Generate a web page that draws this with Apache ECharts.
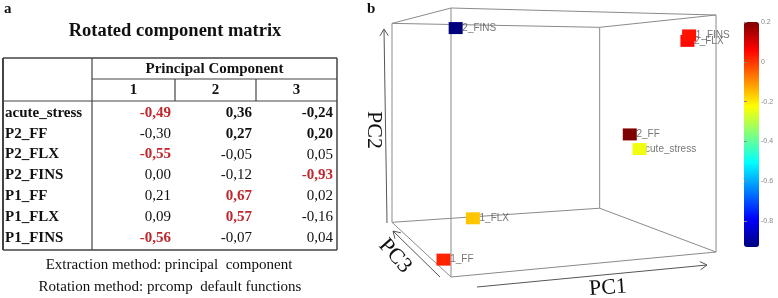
<!DOCTYPE html>
<html>
<head>
<meta charset="utf-8">
<script src="https://cdn.jsdelivr.net/npm/echarts@6/dist/echarts.min.js"></script>
<style>
  html, body { margin: 0; padding: 0; background: #fff; }
  #chart { width: 778px; height: 298px; }
</style>
</head>
<body>
<div id="chart"></div>
<script>
const variables = ['acute_stress', 'P2_FF', 'P2_FLX', 'P2_FINS', 'P1_FF', 'P1_FLX', 'P1_FINS'];
const pc1 = [-0.49, -0.30, -0.55, 0.00, 0.21, 0.09, -0.56];
const pc2 = [0.36, 0.27, -0.05, -0.12, 0.67, 0.57, -0.07];
const pc3 = [-0.24, 0.20, 0.05, -0.93, 0.02, -0.16, 0.04];
const componentLabels = ['1', '2', '3'];
// [row, component] of loadings printed in red / in bold black
const redCells = [[0, 0], [2, 0], [3, 2], [4, 1], [5, 1], [6, 0]];
const boldCells = [[0, 1], [0, 2], [1, 1], [1, 2]];
const colorbarTicks = [0.2, 0, -0.2, -0.4, -0.6, -0.8];

const chart = echarts.init(document.getElementById('chart'));

const SERIF = '"Liberation Serif", "Times New Roman", serif';
const SANS = '"Liberation Sans", Arial, sans-serif';
const JET = ['#00007f', '#0000ff', '#007fff', '#00ffff', '#7fff7f', '#ffff00', '#ff7f00', '#ff0000', '#7f0000'];

// ---------- panel a: the loadings table ----------
const tbl = { left: 3, right: 337, top: 58, bottom: 250, labelCol: 92, headMid: 79, headBottom: 101 };
const colEdges = [92, 175, 256, 337];
const rowY = i => 113 + i * 20.8;
const loadings = [pc1, pc2, pc3];
const fmt = v => v.toFixed(2).replace('-0.00', '0.00').replace('.', ',');
const hasCell = (list, r, c) => list.some(([a, b]) => a === r && b === c);

const line = (x1, y1, x2, y2, w) => ({
  type: 'line', silent: true,
  shape: { x1, y1, x2, y2 },
  style: { stroke: '#444', lineWidth: w || 1 }
});
const text = (str, x, y, font, opts) => Object.assign({
  type: 'text', silent: true, x, y,
  style: Object.assign({
    text: str, x: 0, y: 0, font, fill: '#111',
    align: 'left', textAlign: 'left', verticalAlign: 'middle', textVerticalAlign: 'middle'
  }, opts && opts.style)
}, opts && opts.el);
const centered = { align: 'center', textAlign: 'center' };
const rightAl = { align: 'right', textAlign: 'right' };

const graphics = [];
graphics.push(text('a', 4, 9, 'bold 15px ' + SERIF));
graphics.push(text('Rotated component matrix', 175, 31, 'bold 18.5px ' + SERIF, { style: centered }));
graphics.push(line(tbl.left, tbl.top, tbl.right, tbl.top, 1.5));
graphics.push(line(tbl.left, tbl.bottom, tbl.right, tbl.bottom, 1.5));
graphics.push(line(tbl.left, tbl.top, tbl.left, tbl.bottom, 2));
graphics.push(line(tbl.right, tbl.top, tbl.right, tbl.bottom, 1.5));
graphics.push(line(tbl.labelCol, tbl.top, tbl.labelCol, tbl.bottom, 1.2));
graphics.push(line(tbl.labelCol, tbl.headMid, tbl.right, tbl.headMid, 1.2));
graphics.push(line(tbl.left, tbl.headBottom, tbl.right, tbl.headBottom, 1.2));
colEdges.slice(1, 3).forEach(x => graphics.push(line(x, tbl.headMid, x, tbl.headBottom, 1.2)));
graphics.push(text('Principal Component', (tbl.labelCol + tbl.right) / 2, 69, 'bold 15px ' + SERIF, { style: centered }));
componentLabels.forEach((lab, c) => {
  graphics.push(text(lab, (colEdges[c] + colEdges[c + 1]) / 2, 90, 'bold 15px ' + SERIF, { style: centered }));
});
variables.forEach((name, r) => {
  graphics.push(text(name, 5, rowY(r), 'bold 15px ' + SERIF));
  loadings.forEach((vals, c) => {
    const red = hasCell(redCells, r, c);
    const bold = red || hasCell(boldCells, r, c);
    graphics.push(text(fmt(vals[r]), colEdges[c + 1] - 4, rowY(r), (bold ? 'bold ' : '') + '15px ' + SERIF, {
      style: Object.assign({ fill: red ? '#c0262b' : '#111' }, rightAl)
    }));
  });
});
graphics.push(text('Extraction method: principal  component', 169, 265, '15px ' + SERIF, { style: centered }));
graphics.push(text('Rotation method: prcomp  default functions', 170, 287, '15px ' + SERIF, { style: centered }));

// ---------- panel b: 3D loading plot ----------
graphics.push(text('b', 367, 9, 'bold 15px ' + SERIF));

const arrow = (x1, y1, x2, y2) => {
  const a = Math.atan2(y2 - y1, x2 - x1), L = 8, w = 0.55;
  return {
    type: 'polyline', silent: true,
    shape: { points: [[x2 - L * Math.cos(a - w), y2 - L * Math.sin(a - w)], [x2, y2], [x2 - L * Math.cos(a + w), y2 - L * Math.sin(a + w)]] },
    style: { stroke: '#555', lineWidth: 1, fill: null }
  };
};
[[387, 223, 384, 29], [440, 277, 393, 231], [477, 287, 707, 265]].forEach(([x1, y1, x2, y2]) => {
  graphics.push({ type: 'line', silent: true, shape: { x1, y1, x2, y2 }, style: { stroke: '#555', lineWidth: 1 } });
  graphics.push(arrow(x1, y1, x2, y2));
});
graphics.push(text('PC2', 374, 130, '22px ' + SERIF, { style: centered, el: { rotation: -Math.PI / 2 } }));
graphics.push(text('PC3', 395, 256, '22px ' + SERIF, { style: centered, el: { rotation: -0.84 } }));
graphics.push(text('PC1', 608, 288, '22px ' + SERIF, { style: centered, el: { rotation: 0.07 } }));

// box = data range padded by 2% on each side; coordinates run from the
// (PC1 max, PC2 max, PC3 max) corner, which is nearest to the viewer
const pad = 0.02;
const ext = a => [Math.min(...a), Math.max(...a)];
const toBox = (v, a) => {
  const [lo, hi] = ext(a);
  return ((hi - v) / (hi - lo) + pad) / (1 + 2 * pad);
};
// perspective of the rgl view: depth grows along the PC1 and PC3 edges
const view = { x0: 451, dxS: 361.7, dxT: 79, depthS: 0.135, depthT: 0.352, horizon: 67, base: 210, height: 269 };
const project = (S, H, T) => {
  const z = 1 + view.depthS * S + view.depthT * T;
  return [(view.x0 + view.dxS * S + view.dxT * T) / z, view.horizon + (view.base - view.height * H) / z];
};

const edges = [];
[0, 1].forEach(a => [0, 1].forEach(b => {
  edges.push([[0, a, b], [1, a, b]]);
  edges.push([[a, 0, b], [a, 1, b]]);
  edges.push([[a, b, 0], [a, b, 1]]);
}));
const edgeSeries = edges.map(([p, q]) => ({
  type: 'line', xAxisIndex: 0, yAxisIndex: 0, silent: true, animation: false,
  symbol: 'none', data: [project(...p), project(...q)],
  lineStyle: { color: '#8a8a8a', width: 1 }, z: 1
}));

const points = variables.map((name, i) => {
  const [x, y] = project(toBox(pc1[i], pc1), toBox(pc2[i], pc2), toBox(pc3[i], pc3));
  return { name, value: [x, y, pc3[i]] };
});

const option = {
  animation: false,
  graphic: graphics,
  grid: [
    { left: 0, top: 0, right: 0, bottom: 0 },
    { left: 744, top: 22, width: 15, height: 225 }
  ],
  xAxis: [
    { type: 'value', gridIndex: 0, min: 0, max: 778, show: false },
    { type: 'value', gridIndex: 1, show: false }
  ],
  yAxis: [
    { type: 'value', gridIndex: 0, min: 0, max: 298, inverse: true, show: false },
    {
      type: 'value', gridIndex: 1, position: 'right', min: -0.93, max: 0.2,
      axisLine: { show: false }, splitLine: { show: false },
      axisTick: { show: true, length: 3, customValues: colorbarTicks, lineStyle: { color: '#888' } },
      axisLabel: {
        customValues: colorbarTicks, fontSize: 7, color: '#888', margin: 2, fontFamily: SANS,
        formatter: v => String(+(+v).toFixed(1))
      }
    }
  ],
  visualMap: {
    type: 'continuous', min: -0.93, max: 0.2, dimension: 2, seriesIndex: edges.length + 1,
    calculable: false, hoverLink: false, text: null, showLabel: false,
    itemWidth: 15, itemHeight: 225, left: 729, top: 7, zlevel: 0, z: 0,
    inRange: { color: JET }
  },
  series: edgeSeries.concat([
    {
      type: 'scatter', xAxisIndex: 0, yAxisIndex: 0, silent: true, z: 2,
      symbol: 'rect', symbolSize: [14, 12], data: points,
      itemStyle: { color: 'rgba(0,0,0,0)' },
      label: {
        show: true, formatter: '{b}', position: 'right', distance: -7,
        fontSize: 10, color: '#555', fontFamily: SANS
      }
    },
    {
      // squares sit on their own layer so they cover the start of each label
      type: 'scatter', xAxisIndex: 0, yAxisIndex: 0, silent: true, zlevel: 1,
      symbol: 'rect', symbolSize: [14, 12], data: points,
      itemStyle: { opacity: 1 }
    }
  ])
};

chart.setOption(option);
window.addEventListener('resize', () => chart.resize());
</script>
</body>
</html>
